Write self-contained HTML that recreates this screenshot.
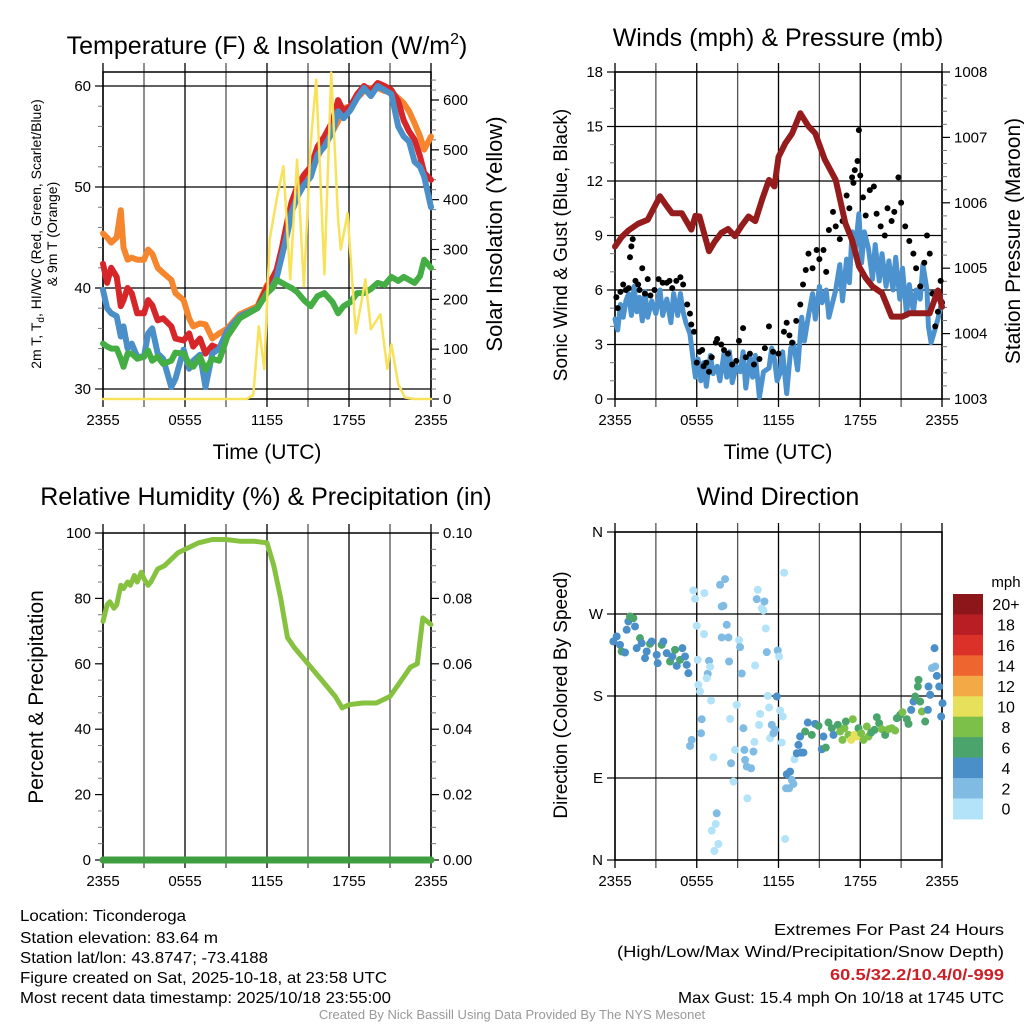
<!DOCTYPE html>
<html><head><meta charset="utf-8">
<style>
html,body{margin:0;padding:0;background:#fff;}
svg{display:block;font-family:"Liberation Sans",sans-serif;}
</style></head>
<body>
<svg id="c" width="1024" height="1024" viewBox="0 0 1024 1024" xmlns="http://www.w3.org/2000/svg">
<g id="g"></g>
<text x="267" y="54" font-size="25" text-anchor="middle">Temperature (F) &amp; Insolation (W/m<tspan font-size="16" dy="-10">2</tspan><tspan dy="10">)</tspan></text>
<text x="778" y="46" font-size="25" text-anchor="middle">Winds (mph) &amp; Pressure (mb)</text>
<text x="266" y="505" font-size="25" text-anchor="middle">Relative Humidity (%) &amp; Precipitation (in)</text>
<text x="778" y="505" font-size="25" text-anchor="middle">Wind Direction</text>
<text x="267" y="459" font-size="21" text-anchor="middle">Time (UTC)</text>
<text x="778" y="459" font-size="21" text-anchor="middle">Time (UTC)</text>
<text transform="translate(41,234) rotate(-90)" font-size="14" text-anchor="middle">2m T, T<tspan font-size="10" dy="3">d</tspan><tspan dy="-3">, HI/WC (Red, Green, Scarlet/Blue)</tspan></text>
<text transform="translate(57,234) rotate(-90)" font-size="14" text-anchor="middle">&amp; 9m T (Orange)</text>
<text transform="translate(502,234) rotate(-90)" font-size="22" text-anchor="middle">Solar Insolation (Yellow)</text>
<text transform="translate(567,245) rotate(-90)" font-size="19" text-anchor="middle">Sonic Wind &amp; Gust (Blue, Black)</text>
<text transform="translate(1020,241) rotate(-90)" font-size="21" text-anchor="middle">Station Pressure (Maroon)</text>
<text transform="translate(43,697) rotate(-90)" font-size="21" text-anchor="middle">Percent &amp; Precipitation</text>
<text transform="translate(567,695) rotate(-90)" font-size="19" text-anchor="middle">Direction (Colored By Speed)</text>
<g font-size="16">
<text x="20" y="921" textLength="166" lengthAdjust="spacingAndGlyphs">Location: Ticonderoga</text>
<text x="20" y="943" textLength="198" lengthAdjust="spacingAndGlyphs">Station elevation: 83.64 m</text>
<text x="20" y="963" textLength="248" lengthAdjust="spacingAndGlyphs">Station lat/lon: 43.8747; -73.4188</text>
<text x="20" y="983" textLength="367" lengthAdjust="spacingAndGlyphs">Figure created on Sat, 2025-10-18, at 23:58 UTC</text>
<text x="20" y="1003" textLength="371" lengthAdjust="spacingAndGlyphs">Most recent data timestamp: 2025/10/18 23:55:00</text>
</g>
<g font-size="16">
<text x="774" y="935" textLength="230" lengthAdjust="spacingAndGlyphs">Extremes For Past 24 Hours</text>
<text x="617" y="957" textLength="387" lengthAdjust="spacingAndGlyphs">(High/Low/Max Wind/Precipitation/Snow Depth)</text>
<text x="830" y="980" textLength="174" lengthAdjust="spacingAndGlyphs" fill="#cc2027" font-weight="bold">60.5/32.2/10.4/0/-999</text>
<text x="678" y="1003" textLength="326" lengthAdjust="spacingAndGlyphs">Max Gust: 15.4 mph On 10/18 at 1745 UTC</text>
</g>
<text x="512" y="1019" font-size="13" fill="#999" text-anchor="middle">Created By Nick Bassill Using Data Provided By The NYS Mesonet</text>
</svg>
<script>
// ---------- data ----------
const xTickLabels = ["2355","0555","1155","1755","2355"];
const tempHours = [0,0.3,0.6,1,1.3,1.5,1.8,2.1,2.5,3,3.3,3.6,4,4.4,5,5.3,5.9,6.3,6.6,7.1,7.5,8,8.5,9.1,10,11.3,12,12.4,12.7,13.1,13.5,13.8,14.2,14.7,15.2,15.7,16.2,16.8,17.2,17.6,18.1,18.6,19.1,19.6,20.1,20.6,21.1,21.6,22,22.4,22.8,23.2,23.5,24];
const tempRed   = [42.4,40.5,42.0,41.1,38.2,38.8,40.0,39.5,37.5,37.5,38.8,38.3,36.8,37.0,36.2,35.0,34.8,35.5,34.2,35.0,33.5,34.3,34.0,35.8,37.2,38.0,40.1,41.0,41.8,44.0,46.7,48.5,50.0,51.2,52.0,54.0,55.0,56.5,58.6,57.5,58.0,59.2,60.0,59.5,60.3,60.0,59.6,58.5,56.6,55.5,54.7,53.0,51.4,50.7];
const tempBlue  = [39.8,38.0,37.5,37.2,35.2,36.2,34.0,34.5,33.2,33.2,35.5,36.0,33.5,33.0,30.2,31.0,33.9,32.0,32.8,33.4,30.2,33.5,34.0,35.8,37.2,38.0,39.5,40.2,41.0,43.2,45.5,47.5,49.0,50.2,51.0,53.2,54.0,55.5,57.5,56.8,57.6,58.8,59.8,59.0,60.0,59.6,59.2,56.0,55.0,54.5,52.5,52.0,51.0,48.0];
const tempGreen = [34.5,34.2,34.0,34.0,33.0,32.2,33.5,33.5,33.0,33.2,33.8,32.8,33.2,32.5,32.8,33.6,33.5,32.5,32.2,33.2,31.9,33.0,32.8,35.2,37.0,38.0,39.5,40.0,40.8,40.5,40.2,40.0,39.6,38.8,38.2,39.2,39.5,38.6,37.5,38.2,38.6,39.5,39.5,39.9,40.5,40.3,41.1,40.7,41.1,40.8,40.5,41.2,42.8,42.0];
const tempOrange= [45.4,45.0,44.5,45.0,47.7,44.0,42.8,43.0,42.8,42.8,43.8,43.4,42.0,41.5,40.8,39.5,38.8,37.0,36.2,36.5,36.4,35.0,35.5,36.0,37.4,38.2,40.3,40.8,41.2,43.5,45.5,47.5,49.0,50.5,51.5,53.0,54.2,55.5,56.5,57.8,58.0,58.8,59.5,59.8,59.8,59.5,59.4,58.8,58.3,57.5,56.3,55.0,53.7,55.0];
const solarHours = [0,10.5,11,11.4,11.8,12.2,12.7,13.2,13.7,14.2,14.7,15.2,15.6,16.2,16.7,17.2,17.4,17.9,18.5,19.2,19.6,20.3,20.8,21.1,21.6,22.1,22.8,23.3,24];
const solarVals  = [0,0,8,146,60,320,400,467,240,480,226,514,641,250,655,360,300,373,132,240,140,170,60,110,30,3,0,0,0];
const windHours = [0,0.2,0.4,0.6,0.8,1,1.2,1.4,1.6,1.8,2,2.2,2.4,2.7,3,3.3,3.5,3.8,4.1,4.3,4.6,4.8,5.0,5.2,5.5,5.9,6.1,6.3,6.5,6.7,7.0,7.2,7.5,7.7,8.0,8.2,8.4,8.6,8.9,9.2,9.4,9.6,9.9,10.1,10.3,10.6,10.9,11.3,11.5,11.7,11.9,12.1,12.3,12.6,12.9,13.1,13.4,13.7,13.9,14.2,14.5,14.7,15.0,15.2,15.5,15.7,16.0,16.2,16.5,16.7,17.0,17.2,17.4,17.6,17.9,18.1,18.3,18.6,18.9,19.1,19.4,19.6,19.9,20.1,20.4,20.6,20.9,21.1,21.4,21.6,21.9,22.1,22.4,22.6,22.9,23.0,23.2,23.4,23.7,24];
const windSonic = [4.4,3.8,5.2,4.5,5.4,5.8,4.6,6.2,4.8,5.6,4.3,5.9,4.5,5.4,4.7,6.0,4.6,5.5,4.2,5.8,4.6,5.8,4.8,4.2,3.6,1.2,2.2,1.0,2.0,0.7,2.4,1.4,1.8,1.0,2.5,1.2,2.6,0.9,1.8,1.5,2.6,0.6,2.3,1.2,2.4,0.1,1.5,1.7,2.8,2.2,1.0,1.4,2.6,0.3,2.8,3.1,1.6,4.5,3.2,4.6,5.8,4.4,6.2,5.3,6.0,4.5,5.4,6.0,7.4,5.4,7.7,6.4,9.2,8.0,10.2,7.5,9.2,8.3,6.6,8.5,6.5,8.0,6.2,7.6,6.0,7.8,5.5,7.2,4.6,6.3,4.8,6.0,5.5,7.4,6.0,4.0,3.1,3.6,4.4,5.4];
const gustHours = [0.1,0.2,0.4,0.6,0.8,1.0,1.1,1.2,1.3,1.5,1.7,1.8,2.0,2.2,2.4,2.6,2.9,3.2,3.5,3.8,4.0,4.2,4.5,4.8,5.0,5.3,5.5,5.6,5.8,6.0,6.2,6.4,6.5,6.7,6.9,7.1,7.4,7.5,7.8,8.0,8.3,8.6,8.9,9.1,9.4,9.6,9.9,10.2,10.6,11.0,11.3,11.6,12.0,12.4,12.6,12.8,13.0,13.3,13.6,13.8,14.0,14.2,14.5,14.8,15.0,15.3,15.5,15.7,16.0,16.2,16.5,16.7,17.0,17.2,17.4,17.5,17.6,17.8,17.9,18.0,18.2,18.4,18.7,19.0,19.2,19.5,19.8,20.0,20.3,20.5,20.8,21.0,21.3,21.6,21.9,22.1,22.4,22.7,22.9,23.1,23.3,23.5,23.7,23.9,24.0];
const gustVals  = [5.6,5.0,5.9,6.3,6.0,6.1,7.8,8.4,8.8,6.5,6.3,6.0,7.2,5.8,6.6,5.7,6.0,6.6,6.4,6.4,6.5,6.1,6.5,6.7,6.3,5.2,4.7,4.1,3.7,2.0,2.6,2.7,1.8,2.0,1.5,2.3,3.1,3.3,3.0,2.7,2.5,1.9,2.1,3.2,3.9,2.3,2.5,1.9,2.2,2.8,4.0,2.6,2.5,3.7,4.2,3.5,3.1,4.3,5.2,6.3,7.1,8.0,7.2,8.2,7.7,8.2,7.0,9.3,10.3,9.5,8.8,9.8,11.2,10.5,12.2,11.9,12.6,13.1,14.8,12.3,11.1,10.1,11.5,11.7,10.2,9.5,9.0,10.5,9.8,10.3,12.2,10.8,9.5,8.7,8.0,7.2,6.2,7.5,9.0,8.0,5.8,4.0,4.8,6.5,5.3];
const presHours = [0,0.5,1,1.7,2.4,3.3,3.8,4.2,4.9,5.6,5.9,6.2,6.9,7.3,7.8,8.3,8.8,9.3,9.8,10.3,10.8,11.3,11.7,12.0,12.5,13.0,13.6,14.2,14.7,15.4,16.2,16.9,17.4,17.9,18.4,18.9,19.6,20.3,21.1,21.6,22.3,23.1,23.7,24];
const presVals  = [1005.33,1005.48,1005.58,1005.68,1005.74,1006.10,1005.95,1005.84,1005.84,1005.59,1005.80,1005.79,1005.26,1005.40,1005.54,1005.60,1005.49,1005.65,1005.79,1005.72,1006.05,1006.35,1006.25,1006.70,1006.91,1007.06,1007.37,1007.17,1007.06,1006.66,1006.35,1005.69,1005.43,1005.03,1004.85,1004.72,1004.62,1004.26,1004.26,1004.31,1004.31,1004.31,1004.66,1004.41];
const rhHours = [0,0.3,0.5,0.8,1,1.3,1.5,1.8,2,2.3,2.5,2.8,3,3.3,3.5,4,4.5,5,5.5,6,7,8,9,10,11,12,12.5,13,13.5,14,15,16,17,17.5,18,19,20,21,22,22.5,23,23.4,24];
const rhVals  = [73,78,79,77,78,84,83,85,84,87,85,88,86,84,85,89,90,92,94,95,97,98,98,97.5,97.5,97,90,80,68,65,60,55,50,46.5,47.5,48,48,50,56,59,60,74,72];
const precipHours = [0,24];
const precipVals = [0,0];
const dirHours = [];
const dirVals = [];
const dirSpeeds = [];
const dirRaw = [[85,365,5],[95,350,5],[105,375,5],[110,395,7],[120,398,5],[125,330,5],[130,305,5],[135,290,7],[145,295,7],[150,320,5],[155,385,5],[165,355,7],[170,370,5],[180,415,5],[185,395,5],[195,372,7],[200,365,5],[215,405,5],[218,430,5],[230,375,7],[235,365,5],[245,400,5],[255,425,7],[262,410,5],[270,390,7],[275,438,5],[285,420,7],[292,385,5],[300,410,5],[305,435,5],[310,460,5],
[325,212,1],[330,237,1],[335,318,1],[338,420,1],[340,495,1],[345,515,1],[350,598,3],[348,640,3],[320,660,3],[315,678,3],[358,220,1],[357,343,1],[368,462,3],[372,423,3],[365,475,1],[375,441,1],[378,542,1],[385,712,1],[395,880,3],[392,912,1],[380,932,1],[400,972,1],[388,993,1],[405,195,3],[420,178,3],[410,260,3],[415,258,3],[425,315,3],[410,353,3],[430,353,3],[432,425,3],[435,597,1],[438,730,3],[445,785,1],[450,690,1],[455,555,1],[462,361,1],[465,382,3],[470,461,3],[475,625,3],[478,690,3],[480,720,3],[485,740,3],[487,835,1],[498,745,3],[505,695,3],[510,437,1],[508,666,1],[518,210,1],[515,238,3],[522,615,1],[525,582,1],[530,265,1],[535,272,1],[538,245,3],[542,326,1],[545,397,3],[548,528,1],[552,563,1],[555,655,1],[560,615,3],[565,640,3],[570,630,3],[575,530,5],[578,392,3],[582,410,1],[585,572,1],[590,668,1],[593,590,1],[597,159,1],[600,957,1],[603,805,3],[605,763,5],[615,755,5],[620,780,3],[625,792,3],[612,805,3],[628,718,1],[635,700,5],[640,675,5],[648,698,5],[655,698,5],[645,650,5],
[660,635,7],[668,608,5],[680,645,7],[690,612,5],[700,618,7],[710,688,5],[715,650,5],[722,683,7],[730,608,7],[740,625,7],[745,645,5],[758,615,7],[765,635,9],[772,660,9],[778,625,9],[782,605,7],[790,645,9],[798,660,11],[803,598,9],[808,645,11],[815,650,11],[820,625,7],[828,640,9],[835,660,9],[845,620,9],[850,650,9],[858,638,7],[868,630,7],[875,592,7],[882,610,7],[890,628,9],[900,645,7],[910,628,9],[920,625,9],[930,632,9],[935,595,7],[945,585,7],[952,577,9],[965,598,7],[970,612,7],[978,570,5],[985,545,5],[990,530,7],[998,500,7],[1000,480,7],[1005,545,7],[1010,575,9],[1020,605,7],[1028,570,5],[1035,525,5],[1030,500,5],[1040,445,3],[1050,440,3],[1048,385,5],[1055,468,5],[1062,500,5],[1068,590,5],[1072,550,5]];
dirRaw.forEach(function(r){ dirHours.push((r[0]-90)/40.85); dirVals.push((1020-r[1])/2.731); dirSpeeds.push(r[2]); });
const speedBins = ["0","2","4","6","8","10","12","14","16","18","20+"];
const speedColors = ["#b3e3f8","#80bbe4","#4a8fc8","#4aa46c","#7cc04a","#e6e05a","#f4a947","#ee6530","#dc3129","#b91e25","#8c1619"];

// ---------- helpers ----------
const NS="http://www.w3.org/2000/svg";
const G=document.getElementById('g');
function mk(tag,attrs,parent){const e=document.createElementNS(NS,tag);for(const k in attrs)e.setAttribute(k,attrs[k]);(parent||G).appendChild(e);return e;}
function lin(d0,d1,r0,r1){return v=>r0+(v-d0)*(r1-r0)/(d1-d0);}
function pathD(xs,ys,fx,fy){return xs.map((x,i)=>(i?'L':'M')+fx(x).toFixed(1)+','+fy(ys[i]).toFixed(1)).join('');}

function frame(L,R,T,B,name){
  const g=mk('g',{});
  
  
  const fx=lin(0,24,L,R);
  for(let h=0;h<=24;h+=3){
    const x=fx(h);
    const l=mk('line',{x1:x,x2:x,y1:T-9,y2:B+8,stroke:(h%6==0?'#000':'#555'),'stroke-width':1.3},g);
    
    
  }
  xTickLabels.forEach((s,i)=>{
    const t=mk('text',{x:fx(i*6),y:B+26,'font-size':15,'text-anchor':'middle'},g);t.textContent=s;
    
    
  });
  const r=mk('rect',{x:L,y:T,width:R-L,height:B-T,fill:'none',stroke:'#000','stroke-width':1.5},g);
  
  
  return {g,fx};
}
function yAxis(g,ticks,labels,fy,x0,x1,side,grid,minor){
  ticks.forEach((v,i)=>{
    const y=fy(v);
    if(grid){const l=mk('line',{x1:x0,x2:x1,y1:y,y2:y,stroke:'#000','stroke-width':1.3},g);
      
      }
    const tx=side=='L'?x0:x1;
    mk('line',{x1:tx,x2:tx+(side=='L'?-8:8),y1:y,y2:y,stroke:'#000','stroke-width':1.2},g);
    const t=mk('text',{x:side=='L'?x0-12:x1+12,y:y+5,'font-size':15,'text-anchor':side=='L'?'end':'start'},g);
    t.textContent=labels[i];
    
    
  });
  if(minor){minor.forEach(v=>{const y=fy(v);const tx=side=='L'?x0:x1;mk('line',{x1:tx,x2:tx+(side=='L'?-5:5),y1:y,y2:y,stroke:'#777','stroke-width':1},g);});}
}
function series(g,xs,ys,fx,fy,color,w,name){
  const p=mk('path',{d:pathD(xs,ys,fx,fy),fill:'none',stroke:color,'stroke-width':w,'stroke-linejoin':'round','stroke-linecap':'round'},g);
  
  
  return p;
}

// ---------- panel 1: temperature ----------
(function(){
  const L=103,R=431,T=72,B=399;
  const {g,fx}=frame(L,R,T,B,'temp');
  const fy=lin(60,30,86,389), fs=lin(0,600,399,100);
  yAxis(g,[30,40,50,60],["30","40","50","60"],fy,L,R,'L',true,[32,34,36,38,42,44,46,48,52,54,56,58]);
  yAxis(g,[0,100,200,300,400,500,600],["0","100","200","300","400","500","600"],fs,L,R,'R',false,[20,40,60,80,120,140,160,180,220,240,260,280,320,340,360,380,420,440,460,480,520,540,560,580,620,640]);
  series(g,tempHours,tempOrange,fx,fy,'#f6862e',6,'orange-9m-temp-line');
  series(g,tempHours,tempRed,fx,fy,'#d7262a',6,'red-2m-temp-line');
  series(g,tempHours,tempBlue,fx,fy,'#4a8fc8',6,'blue-windchill-line');
  series(g,tempHours,tempGreen,fx,fy,'#44ad44',6,'green-dewpoint-line');
  series(g,solarHours,solarVals,fx,fs,'#f8e25a',2.5,'yellow-solar-line');
})();

// ---------- panel 2: winds ----------
(function(){
  const L=615,R=942,T=72,B=399;
  const {g,fx}=frame(L,R,T,B,'wind');
  const fy=lin(0,18,399,72), fp=lin(1003,1008,399,72);
  yAxis(g,[0,3,6,9,12,15,18],["0","3","6","9","12","15","18"],fy,L,R,'L',true,[1,2,4,5,7,8,10,11,13,14,16,17]);
  yAxis(g,[1003,1004,1005,1006,1007,1008],["1003","1004","1005","1006","1007","1008"],fp,L,R,'R',false,[1003.2,1003.4,1003.6,1003.8,1004.2,1004.4,1004.6,1004.8,1005.2,1005.4,1005.6,1005.8,1006.2,1006.4,1006.6,1006.8,1007.2,1007.4,1007.6,1007.8]);
  series(g,windHours,windSonic,fx,fy,'#4b92cf',5,'blue-sonic-wind-line');
  gustHours.forEach((h,i)=>{
    const c=mk('circle',{cx:fx(h),cy:fy(gustVals[i]),r:3,fill:'#000'},g);
    
    
  });
  series(g,presHours,presVals,fx,fp,'#951c1c',6,'maroon-pressure-line');
})();

// ---------- panel 3: RH ----------
(function(){
  const L=103,R=431,T=533,B=860;
  const {g,fx}=frame(L,R,T,B,'rh');
  const fy=lin(0,100,860,533), fq=lin(0,0.1,860,533);
  yAxis(g,[0,20,40,60,80,100],["0","20","40","60","80","100"],fy,L,R,'L',false,[5,10,15,25,30,35,45,50,55,65,70,75,85,90,95]);
  yAxis(g,[0,0.02,0.04,0.06,0.08,0.1],["0.00","0.02","0.04","0.06","0.08","0.10"],fq,L,R,'R',false,[0.005,0.01,0.015,0.025,0.03,0.035,0.045,0.05,0.055,0.065,0.07,0.075,0.085,0.09,0.095]);
  series(g,rhHours,rhVals,fx,fy,'#86c240',5,'rh-line');
  series(g,precipHours,precipVals,fx,fq,'#3f9e3f',7,'precip-line');
})();

// ---------- panel 4: wind direction ----------
(function(){
  const L=615,R=942,T=532,B=860;
  const {g,fx}=frame(L,R,T,B,'wdir');
  const fy=lin(0,360,860,532);
  yAxis(g,[0,90,180,270,360],["N","E","S","W","N"],fy,L,R,'L',true,null);
  dirHours.forEach((h,i)=>{
    const bin=Math.min(10,Math.max(0,Math.floor(dirSpeeds[i]/2)));
    const c=mk('circle',{cx:fx(h),cy:fy(dirVals[i]),r:4,fill:speedColors[bin]},g);
    
    
  });
  const lg=mk('g',{});
  
  
  const t0=mk('text',{x:1006,y:587,'font-size':15,'text-anchor':'middle'},lg);t0.textContent='mph';
  const h=20.45;
  for(let k=10;k>=0;k--){
    const y=594+(10-k)*h;
    const r=mk('rect',{x:953,y:y,width:30,height:h+0.5,fill:speedColors[k]},lg);
    
    
    const t=mk('text',{x:1006,y:y+h/2+6,'font-size':16,'text-anchor':'middle'},lg);t.textContent=speedBins[k];
    
    
  }
})();
</script>
</body></html>
